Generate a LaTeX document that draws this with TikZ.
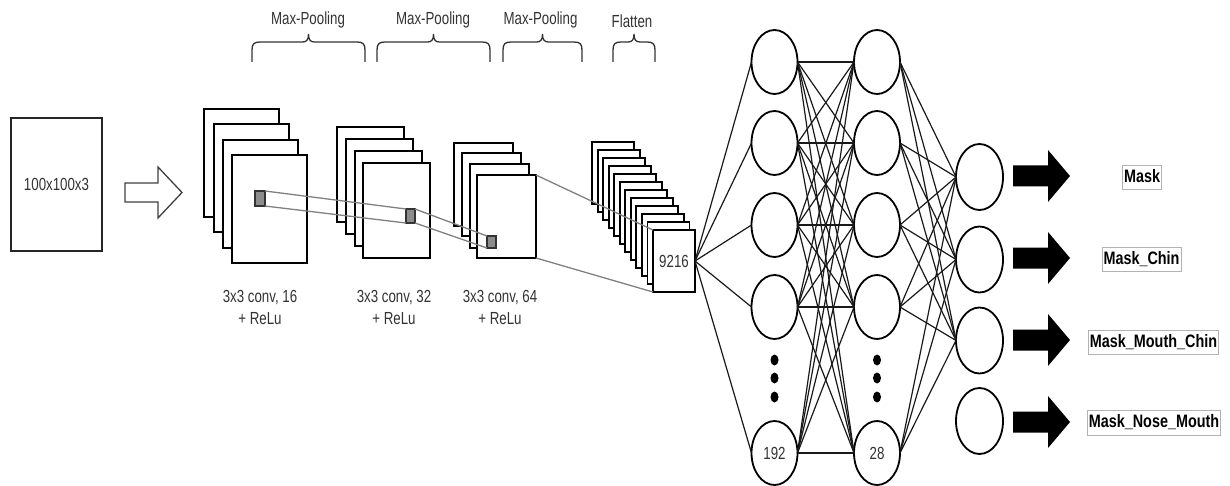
\documentclass[tikz,border=0pt]{standalone}
\usepackage{fontspec}
\setmainfont{Liberation Sans}[FakeStretch=0.76]
\newfontfamily\labfont{Liberation Sans}[FakeStretch=0.8]
\usetikzlibrary{shapes.geometric}
\newcommand\mybrace[3]{%
  \draw[brc] (#1,62) -- (#1,50) .. controls (#1,44) and ({#1+2},42) .. ({#1+8},42)
    -- ({#2-6},42) .. controls ({#2-2},42) and (#2,40) .. (#2,34)
    .. controls (#2,40) and ({#2+2},42) .. ({#2+6},42)
    -- ({#3-8},42) .. controls ({#3-2},42) and (#3,44) .. (#3,50) -- (#3,62);}
\begin{document}
\begin{tikzpicture}[x=1pt,y=-1pt,
  nb/.style={inner sep=0pt,outer sep=0pt},
  txt/.style={nb,text=black!80,font=\fontsize{17.5}{21.5}\selectfont,align=center},
  fmap/.style={nb,draw=black,line width=2pt,fill=white,anchor=north west},
  fmA/.style={fmap,minimum width=75pt,minimum height=108pt},
  fmB/.style={fmap,minimum width=67pt,minimum height=95pt},
  fmC/.style={fmap,minimum width=59pt,minimum height=83pt},
  fmD/.style={fmap,minimum width=42pt,minimum height=62pt,line width=1.9pt},
  kern/.style={nb,draw=black!80,fill=black!45,line width=1.5pt,anchor=north west},
  glink/.style={draw=black!50,line width=1.3pt},
  neu/.style={nb,ellipse,draw=black,line width=1.8pt,fill=white,minimum width=46pt,minimum height=64pt,text=black!80,font=\fontsize{17.5}{20}\selectfont},
  outn/.style={neu,minimum width=47pt,minimum height=66pt},
  nnline/.style={draw=black!90,line width=1.2pt},
  brc/.style={draw=black!80,line width=1.3pt},
  hollow/.style={draw=black!75,line width=1.3pt,fill=white},
  lbl/.style={nb,draw=black!30,line width=0.8pt,inner xsep=1.5pt,inner ysep=3.5pt,text height=13.5pt,text depth=4pt,text=black,font=\labfont\fontsize{18}{21}\bfseries\selectfont}
]
\useasboundingbox (0,0) rectangle (1230,486);

% input
\node[nb,draw=black!85,line width=2pt,minimum width=91pt,minimum height=133pt,text=black!80,font=\fontsize{17.5}{20}\selectfont] (inp) at (56.5,184.5) {100x100x3};
\draw[hollow] (125,183) -- (158,183) -- (158,167) -- (182,192.5) -- (158,218) -- (158,202) -- (125,202) -- cycle;

% conv 1
\node[fmA] (c1a) at (204,109) {};
\node[fmA] (c1b) at (213.5,124.5) {};
\node[fmA] (c1c) at (223,140) {};
\node[fmA] (c1) at (232,155) {};
\node[kern,minimum width=10pt,minimum height=15pt] (k1) at (255,191) {};

% conv 2
\node[fmB] (c2a) at (337,127) {};
\node[fmB] (c2b) at (346,139) {};
\node[fmB] (c2c) at (354.5,151) {};
\node[fmB] (c2) at (363,163) {};
\node[kern,minimum width=9pt,minimum height=14pt] (k2) at (406,209) {};

% conv 3
\node[fmC] (c3a) at (454,143) {};
\node[fmC] (c3b) at (462,153.5) {};
\node[fmC] (c3c) at (469.5,164.5) {};
\node[fmC] (c3) at (477,175) {};
\node[kern,minimum width=9pt,minimum height=12pt] (k3) at (487,236) {};

% flatten
\foreach \k in {0,...,10} \node[fmD] (f\k) at ({592+5.545*\k},{142+8*\k}) {};
\node[fmD,text=black!80,font=\fontsize{17.5}{20}\selectfont] (flat) at (653,230) {9216};

% gray links
\draw[glink] (k1.north east) -- (k2.north west);
\draw[glink] (k1.south east) -- (k2.south west);
\draw[glink] (k2.north east) -- (k3.north west);
\draw[glink] (k2.south east) -- (k3.south west);
\draw[glink] (c3.north east) -- (flat.north west);
\draw[glink] (c3.south east) -- (flat.south west);

% conv labels
\node[txt] (l1) at (260,307.5) {3x3 conv, 16\\+ ReLu};
\node[txt] (l2) at (394,307.5) {3x3 conv, 32\\+ ReLu};
\node[txt] (l3) at (500,307.5) {3x3 conv, 64\\+ ReLu};

% braces
\mybrace{252}{308.5}{365}
\mybrace{377}{433.5}{490}
\mybrace{503}{542.5}{582}
\mybrace{613}{634}{655}
\node[txt] (p1) at (308,20) {Max-Pooling};
\node[txt] (p2) at (433,20) {Max-Pooling};
\node[txt] (p3) at (540.5,20) {Max-Pooling};
\node[txt] (p4) at (632,21) {Flatten};

% neurons
\foreach \i/\y in {1/62,2/143,3/225,4/307} {
  \node[neu] (a\i) at (774.5,\y) {};
  \node[neu] (b\i) at (877,\y) {};
}
\node[neu] (a5) at (774.5,453) {192};
\node[neu] (b5) at (877,453) {28};
\foreach \i/\y in {1/177,2/259.5,3/340.5,4/421} \node[outn] (o\i) at (979.5,\y) {};

\foreach \i in {1,...,5} \draw[nnline] (flat.east) -- (a\i.west);
\foreach \i in {1,...,5} \foreach \j in {1,...,5} \draw[nnline] (a\i.east) -- (b\j.west);
\foreach \i in {1,...,5} \foreach \j in {1,2,3} \draw[nnline] (b\i.east) -- (o\j.west);

\foreach \x in {774.5,877} \foreach \y in {360,378,397}
  \fill[black] (\x,\y) ellipse [x radius=4pt,y radius=5.5pt];

% output arrows
\foreach \y in {176,258,340,422}
  \fill[black] (1013,{\y-10.5}) -- (1048,{\y-10.5}) -- (1048,{\y-26}) -- (1070,\y)
     -- (1048,{\y+26}) -- (1048,{\y+10.5}) -- (1013,{\y+10.5}) -- cycle;

\node[lbl] (m1) at (1142,177.5) {Mask};
\node[lbl] (m2) at (1141.5,259.5) {Mask\_Chin};
\node[lbl] (m3) at (1153.5,342.5) {Mask\_Mouth\_Chin};
\node[lbl] (m4) at (1154,423) {Mask\_Nose\_Mouth};
\end{tikzpicture}
\end{document}
